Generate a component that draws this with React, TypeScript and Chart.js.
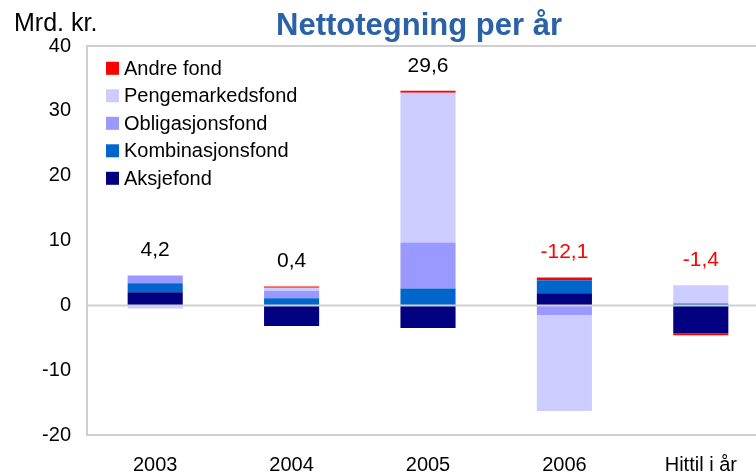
import React, { useEffect, useRef } from "react";
import { Chart, registerables } from "chart.js";

Chart.register(...registerables);

const categories = ["2003", "2004", "2005", "2006", "Hittil i år"];
const aksjefond = [2.0, -3.2, -3.5, 1.85, -4.3];
const kombinasjonsfond = [1.4, 1.1, 2.6, 2.0, 0.3];
const obligasjonsfond = [1.2, 1.1, 7.1, -1.5, 0];
const pengemarkedsfond = [-0.5, 0.5, 23.1, -14.8, 2.8];
const andreFond = [0, 0.2, 0.3, 0.45, -0.3];
const totals = [4.2, 0.4, 29.6, -12.1, -1.4];
const yTicks = [-20, -10, 0, 10, 20, 30, 40];

const FONT = "'Liberation Sans', Arial, sans-serif";

export default function App() {
  const ref = useRef<HTMLCanvasElement | null>(null);

  useEffect(() => {
    const canvas = ref.current;
    if (!canvas) return;

    const series = [
      { label: "Aksjefond", data: aksjefond, color: "#000080" },
      { label: "Kombinasjonsfond", data: kombinasjonsfond, color: "#0066CC" },
      { label: "Obligasjonsfond", data: obligasjonsfond, color: "#9999FF" },
      { label: "Pengemarkedsfond", data: pengemarkedsfond, color: "#CCCCFF" },
      { label: "Andre fond", data: andreFond, color: "#FF0000" },
    ];

    const decor = {
      id: "decor",
      beforeDatasetsDraw(chart: any) {
        const { ctx, chartArea } = chart;
        ctx.save();
        ctx.strokeStyle = "#cfcfcf";
        ctx.lineWidth = 2;
        ctx.beginPath();
        ctx.moveTo(chartArea.right + 2, chartArea.top);
        ctx.lineTo(chartArea.left, chartArea.top);
        ctx.lineTo(chartArea.left, chartArea.bottom);
        ctx.lineTo(chartArea.right + 2, chartArea.bottom);
        ctx.stroke();
        ctx.restore();
      },
      afterDatasetsDraw(chart: any) {
        const { ctx, chartArea, scales } = chart;
        const y = scales.y;
        const x = scales.x;
        ctx.save();
        // zero line over bars
        const y0 = Math.round(y.getPixelForValue(0)) + 0.5;
        ctx.strokeStyle = "#d0d0d0";
        ctx.lineWidth = 2;
        ctx.beginPath();
        ctx.moveTo(chartArea.left, y0);
        ctx.lineTo(chartArea.right, y0);
        ctx.stroke();

        // total labels
        ctx.font = `21px ${FONT}`;
        ctx.textAlign = "center";
        ctx.textBaseline = "middle";
        categories.forEach((_, i) => {
          let pos = 0;
          series.forEach((s) => {
            if (s.data[i] > 0) pos += s.data[i];
          });
          const topPx = y.getPixelForValue(pos);
          const t = totals[i];
          ctx.fillStyle = t < 0 ? "#FF0000" : "#000000";
          ctx.fillText(t.toFixed(1).replace(".", ","), x.getPixelForValue(i), topPx - 25);
        });

        // legend inside plot
        const rev = [...series].reverse();
        ctx.font = `20px ${FONT}`;
        ctx.textAlign = "left";
        ctx.textBaseline = "middle";
        rev.forEach((s, i) => {
          const cy = 68.3 + i * 27.5;
          ctx.fillStyle = s.color;
          ctx.fillRect(106, cy - 6.5, 13, 13);
          ctx.fillStyle = "#000000";
          ctx.fillText(s.label, 124, cy + 1);
        });

        // title and unit
        ctx.textBaseline = "alphabetic";
        ctx.fillStyle = "#2B61A6";
        ctx.font = `bold 31px ${FONT}`;
        ctx.textAlign = "center";
        ctx.fillText("Nettotegning per år", 419, 35);
        ctx.fillStyle = "#000000";
        ctx.font = `25px ${FONT}`;
        ctx.textAlign = "left";
        ctx.fillText("Mrd. kr.", 14, 31);
        ctx.restore();
      },
    };

    const chart = new Chart(canvas, {
      type: "bar",
      data: {
        labels: categories,
        datasets: series.map((s) => ({
          label: s.label,
          data: s.data,
          backgroundColor: s.color,
          borderWidth: 0,
          categoryPercentage: 1,
          barPercentage: 0.404,
        })),
      },
      options: {
        responsive: false,
        animation: false,
        devicePixelRatio: 1,
        layout: { padding: { top: 46, left: 0, right: 0, bottom: 0 } },
        plugins: {
          legend: { display: false },
          title: { display: false },
          tooltip: { enabled: false },
        },
        scales: {
          x: {
            stacked: true,
            grid: { display: false, drawTicks: false },
            border: { display: false },
            ticks: {
              color: "#000",
              font: { family: FONT, size: 20 },
              padding: 18,
              maxRotation: 0,
            },
            afterFit: (scale: any) => {
              scale.height = 38;
            },
          },
          y: {
            stacked: true,
            min: -20,
            max: 40,
            afterBuildTicks: (scale: any) => {
              scale.ticks = yTicks.map((v) => ({ value: v }));
            },
            grid: { display: false, drawTicks: false },
            border: { display: false },
            ticks: {
              color: "#000",
              font: { family: FONT, size: 20 },
              padding: 16,
            },
            afterFit: (scale: any) => {
              scale.width = 87;
            },
          },
        },
      },
      plugins: [decor],
    });

    return () => chart.destroy();
  }, []);

  return (
    <div
      style={{
        position: "fixed",
        left: 0,
        top: 0,
        width: 756,
        height: 473,
        overflow: "hidden",
        background: "#fff",
      }}
    >
      <canvas ref={ref} width={769} height={473} style={{ display: "block" }} />
    </div>
  );
}
